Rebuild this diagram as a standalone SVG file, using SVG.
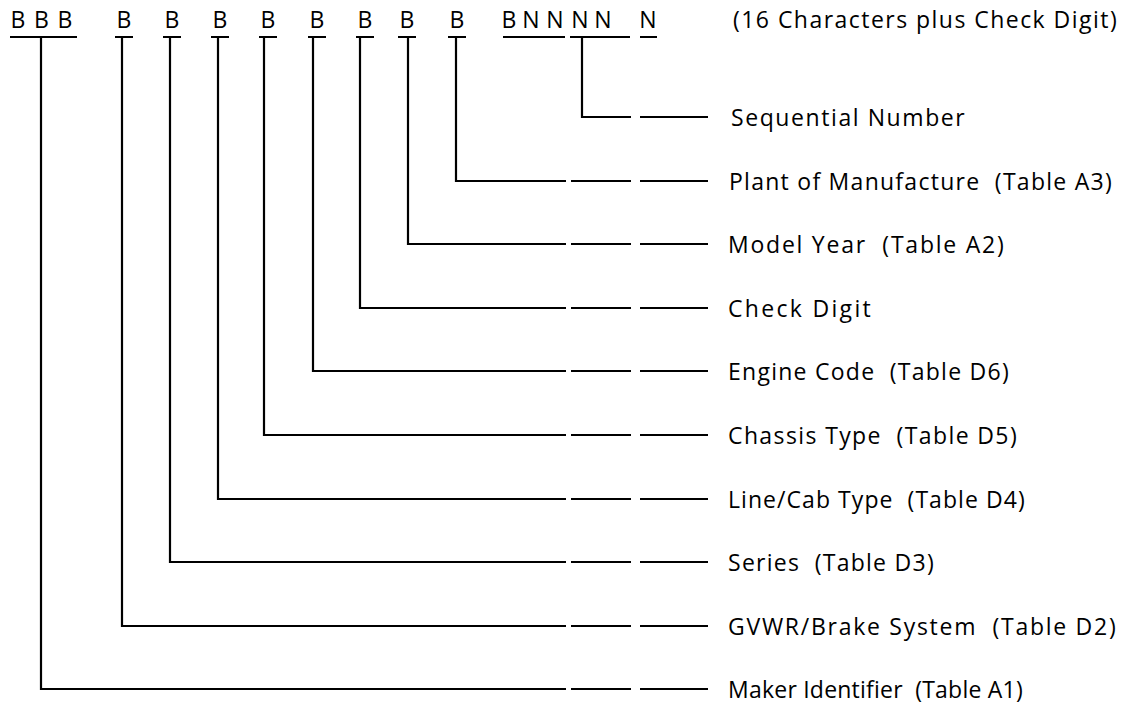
<svg xmlns="http://www.w3.org/2000/svg" width="1129" height="711" viewBox="0 0 1129 711">
<style>
text{font-family:"Open Sans","Noto Sans","Liberation Sans",sans-serif;font-size:23px;fill:#000;white-space:pre}
.c{text-anchor:middle}
.lbl{letter-spacing:1.3px}
.ln{fill:none;stroke:#000;stroke-width:2.2}
</style>
<rect width="1129" height="711" fill="#fff"/>
<g id="code">
<text class="c" x="18" y="28">B</text><text class="c" x="41.5" y="28">B</text><text class="c" x="65" y="28">B</text>
<text class="c" x="124" y="28">B</text><text class="c" x="172" y="28">B</text><text class="c" x="220" y="28">B</text><text class="c" x="268" y="28">B</text><text class="c" x="317" y="28">B</text><text class="c" x="365" y="28">B</text><text class="c" x="407" y="28">B</text><text class="c" x="457" y="28">B</text>
<text class="c" x="509" y="28">B</text><text class="c" x="531" y="28">N</text><text class="c" x="555" y="28">N</text><text class="c" x="580" y="28">N</text><text class="c" x="603" y="28">N</text><text class="c" x="648" y="28">N</text>
<path class="ln" d="M10,37H77M115,37H133M163,37H181M211,37H229M259,37H277M308,37H326M356,37H374M398,37H416M448,37H466M503,37H565M570,37H630M640,37H657"/>
<text class="lbl" x="733" y="28" textLength="385" lengthAdjust="spacing">(16 Characters plus Check Digit)</text>
</g>
<g id="connectors">
<path class="ln" d="M582,37V117H631M640,117H708"/>
<path class="ln" d="M456,37V181H566M571,181H631M640,181H708"/>
<path class="ln" d="M408,37V244H566M571,244H631M640,244H708"/>
<path class="ln" d="M360,37V308H566M571,308H631M640,308H708"/>
<path class="ln" d="M313,37V371H566M571,371H631M640,371H708"/>
<path class="ln" d="M264,37V435H566M571,435H631M640,435H708"/>
<path class="ln" d="M218,37V499H566M571,499H631M640,499H708"/>
<path class="ln" d="M170,37V562H566M571,562H631M640,562H708"/>
<path class="ln" d="M122,37V626H566M571,626H631M640,626H708"/>
<path class="ln" d="M41,37V689H566M571,689H631M640,689H708"/>
</g>
<g id="sequential"><text class="lbl" x="731" y="126" textLength="235" lengthAdjust="spacing">Sequential Number</text></g>
<g id="plant"><text class="lbl" x="729" y="190" textLength="384" lengthAdjust="spacing">Plant of Manufacture  (Table A3)</text></g>
<g id="model-year"><text class="lbl" x="728" y="253" textLength="277" lengthAdjust="spacing">Model Year  (Table A2)</text></g>
<g id="check-digit"><text class="lbl" x="728" y="317" textLength="144" lengthAdjust="spacing">Check Digit</text></g>
<g id="engine"><text class="lbl" x="728" y="380" textLength="282" lengthAdjust="spacing">Engine Code  (Table D6)</text></g>
<g id="chassis"><text class="lbl" x="728" y="444" textLength="290" lengthAdjust="spacing">Chassis Type  (Table D5)</text></g>
<g id="line-cab"><text class="lbl" x="728" y="508" textLength="298" lengthAdjust="spacing">Line/Cab Type  (Table D4)</text></g>
<g id="series"><text class="lbl" x="728" y="571" textLength="207" lengthAdjust="spacing">Series  (Table D3)</text></g>
<g id="gvwr"><text class="lbl" x="728" y="635" textLength="389" lengthAdjust="spacing">GVWR/Brake System  (Table D2)</text></g>
<g id="maker"><text class="lbl" x="728" y="698" textLength="296" lengthAdjust="spacing">Maker Identifier  (Table A1)</text></g>
</svg>
